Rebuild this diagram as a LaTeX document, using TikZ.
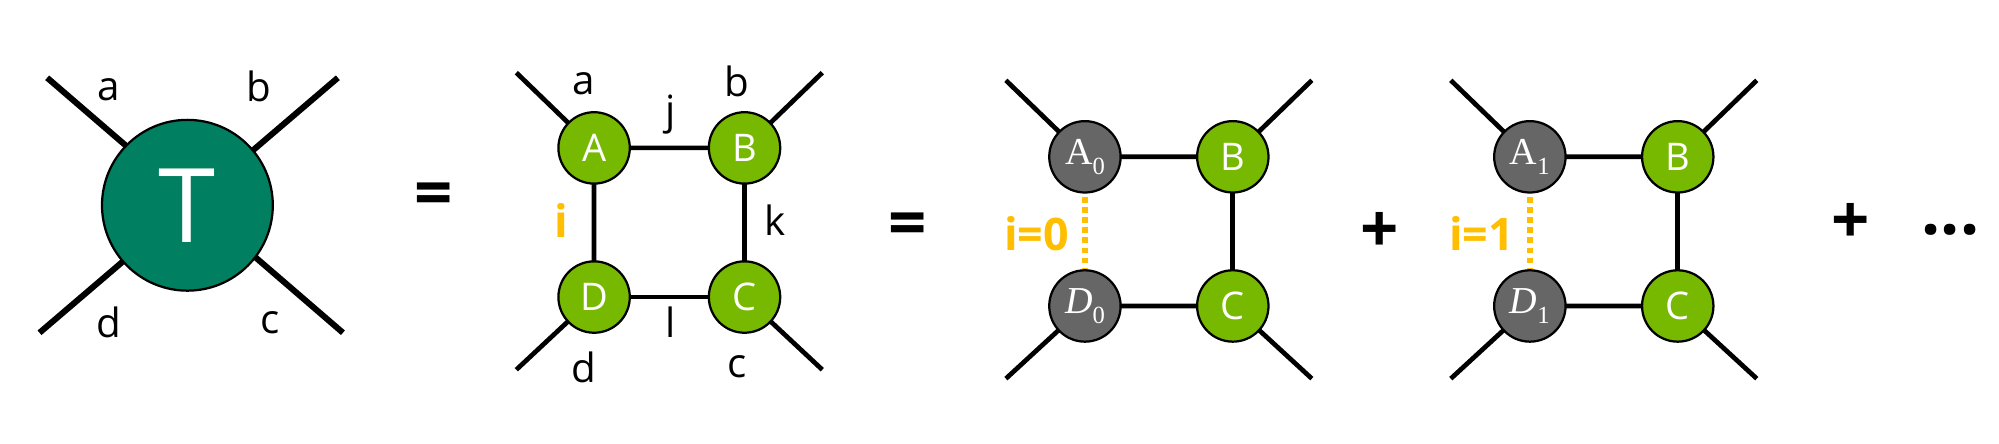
\documentclass[tikz,border=0pt]{standalone}
\usepackage{fontspec}
\setmainfont{Open Sans}
\newfontfamily\mathlike{Liberation Serif}
\begin{document}
\begin{tikzpicture}[x=0.02cm,y=-0.02cm,
  leg/.style={line width=2.1pt},
  gn/.style={circle,draw,line width=1pt,minimum size=1.12cm,inner sep=0pt,text=white,font=\fontsize{17}{17}\selectfont},
  dn/.style={gn,fill=black!60},
  lab/.style={font=\fontsize{18}{18}\selectfont},
  ilab/.style={font=\bfseries\fontsize{20}{20}\selectfont},
  op/.style={font=\fontsize{30}{30}\selectfont}]
\definecolor{tg}{RGB}{0,128,96}
\definecolor{ng}{RGB}{118,185,0}
\definecolor{og}{RGB}{255,190,0}
\tikzset{gn/.append style={fill=ng},dn/.append style={fill=black!60},ilab/.append style={text=og}}
\useasboundingbox (0,0) rectangle (1568,347.5);
% first
\coordinate (t1) at (37,61); \coordinate (t2) at (265,61);
\coordinate (t3) at (31,261); \coordinate (t4) at (269,261);
\draw[line width=2.7pt] (t1)--(t4); \draw[line width=2.7pt] (t2)--(t3);
\node[circle,draw,line width=1pt,fill=tg,minimum size=2.68cm,text=white,font=\fontsize{46}{46}\selectfont] (T) at (147,161) {T};
\node[lab] (la) at (85,70) {a}; \node[lab] (lb) at (203,68) {b};
\node[lab] (ld) at (85,253) {d}; \node[lab] (lc) at (212,253) {c};
\node[op] (e1) at (340,157) {\textbf{=}};
% second
\coordinate (s1) at (405,57); \coordinate (s2) at (645,57);
\coordinate (s3) at (405,290); \coordinate (s4) at (645,290);
\draw[leg] (s1)--(466,116)--(584,116)--(s2);
\draw[leg] (466,116)--(466,233)--(s3);
\draw[leg] (584,116)--(584,233)--(s4);
\draw[leg] (466,233)--(584,233);
\node[gn] (A) at (466,116) {A}; \node[gn] (B) at (584,116) {B};
\node[gn] (D) at (466,233) {D}; \node[gn] (C) at (584,233) {C};
\node[lab] at (458,66) {a}; \node[lab] at (578,64) {b};
\node[lab] at (526,90) {j}; \node[lab] at (608,173) {k};
\node[ilab] at (440,173) {i};
\node[lab] at (458,288) {d}; \node[lab] at (526,253) {l}; \node[lab] at (578,288) {c};
\node[op] (e2) at (712,180) {\textbf{=}};
% third & fourth
\foreach \ox/\n in {0/0,349/1}{
\begin{scope}[xshift=\ox*0.02cm]
\draw[leg] (789,63)--(851,123)--(967,123)--(1029,63);
\draw[leg] (789,297)--(851,240)--(967,240)--(1029,297);
\draw[leg] (967,123)--(967,240);
\draw[og,line width=2.5pt,dash pattern=on 2.5pt off 2pt] (851,123)--(851,240);
\node[dn] at (851,123) {{\mathlike A}\raisebox{-0.5ex}{\fontsize{11}{11}\selectfont\mathlike\n}};
\node[gn] at (967,123) {B};
\node[dn] at (851,240) {{\mathlike\itshape D}\raisebox{-0.5ex}{\fontsize{11}{11}\selectfont\mathlike\n}};
\node[gn] at (967,240) {C};
\node[ilab] at (813,183) {i=\n};
\end{scope}}
\node[op] (p1) at (1082,182) {\textbf{+}};
\node[op] (p2) at (1452,175) {\textbf{+}};
\node[op] (dots) at (1530,180) {\textbf{...}};
\end{tikzpicture}
\end{document}
